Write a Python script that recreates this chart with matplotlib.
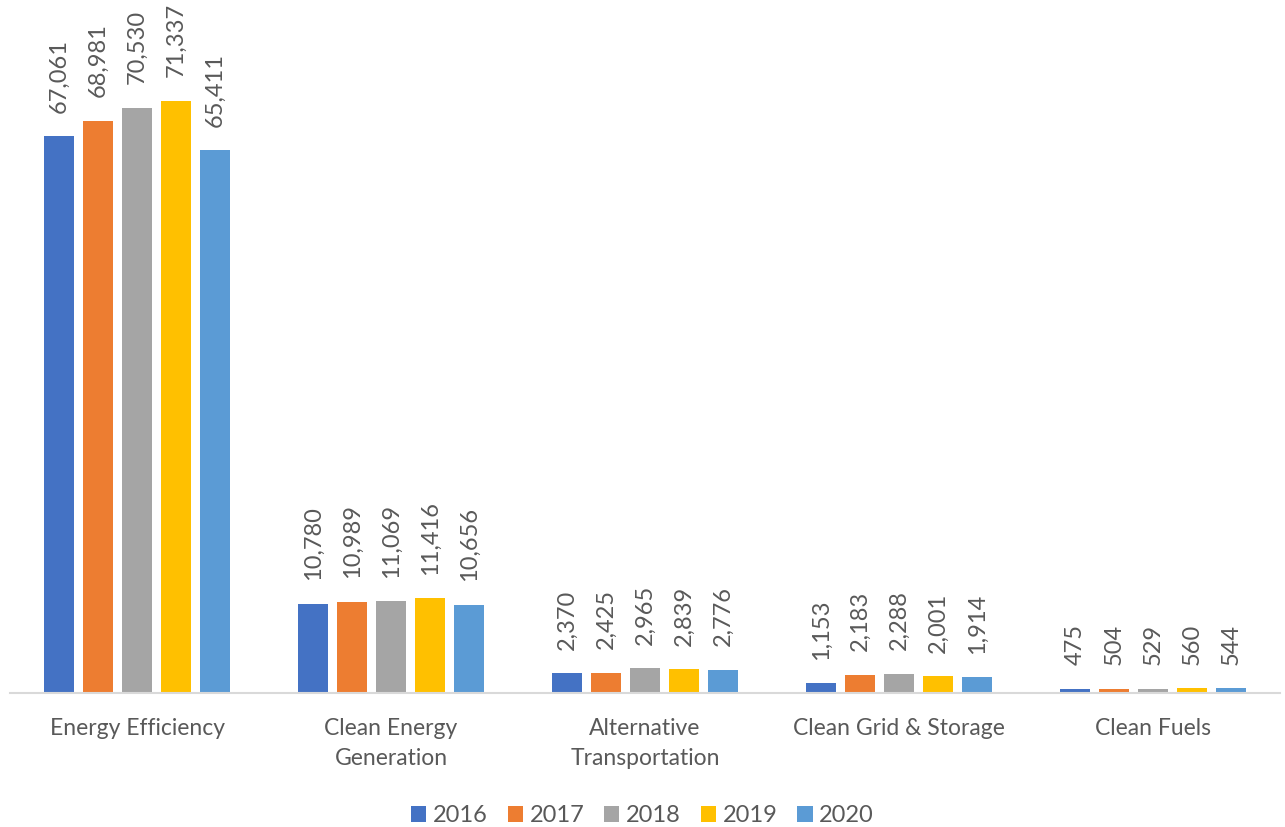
import matplotlib
matplotlib.use("Agg")
import matplotlib.pyplot as plt
import numpy as np

plt.rcParams['font.family'] = ['Lato', 'DejaVu Sans']

categories = ["Energy Efficiency", "Clean Energy\nGeneration", "Alternative\nTransportation",
              "Clean Grid & Storage", "Clean Fuels"]
years = ["2016", "2017", "2018", "2019", "2020"]
values = {
    "2016": [67061, 10780, 2370, 1153, 475],
    "2017": [68981, 10989, 2425, 2183, 504],
    "2018": [70530, 11069, 2965, 2288, 529],
    "2019": [71337, 11416, 2839, 2001, 560],
    "2020": [65411, 10656, 2776, 1914, 544],
}
colors = ["#4472C4", "#ED7D31", "#A5A5A5", "#FFC000", "#5B9BD5"]

text_color = "#595959"

fig = plt.figure(figsize=(12.85, 8.27), dpi=100)
ax = fig.add_axes([10 / 1285, 1 - 693 / 827, 1270 / 1285, 683 / 827])

x = np.arange(len(categories))
step = 39 / 254
width = 30 / 254

for i, (yr, col) in enumerate(zip(years, colors)):
    pos = x + (i - 2) * step
    bars = ax.bar(pos, values[yr], width=width, color=col, label=yr, zorder=2)
    for b, v in zip(bars, values[yr]):
        ax.annotate(f"{v:,}", (b.get_x() + b.get_width() / 2, v),
                    xytext=(0, 17), textcoords="offset points",
                    rotation=90, ha="center", va="bottom",
                    fontsize=17, color=text_color)

ax.set_xlim(-0.5, len(categories) - 0.5)
ax.set_ylim(0, 82300)
ax.set_yticks([])
ax.set_xticks(x)
ax.set_xticklabels(categories, fontsize=16.5, color=text_color, linespacing=1.55)
ax.tick_params(axis="x", length=0, pad=18)
for s in ["top", "right", "left"]:
    ax.spines[s].set_visible(False)
ax.spines["bottom"].set_color("#D9D9D9")
ax.spines["bottom"].set_linewidth(1.5)
ax.set_facecolor("none")

leg = fig.legend(loc="center", bbox_to_anchor=(0.5, 1 - 816 / 827), ncol=5,
                 frameon=False, fontsize=17, handlelength=0.64, handleheight=0.64,
                 handletextpad=0.28, columnspacing=0.85)
for t in leg.get_texts():
    t.set_color(text_color)

fig.savefig("out.png", dpi=100)
